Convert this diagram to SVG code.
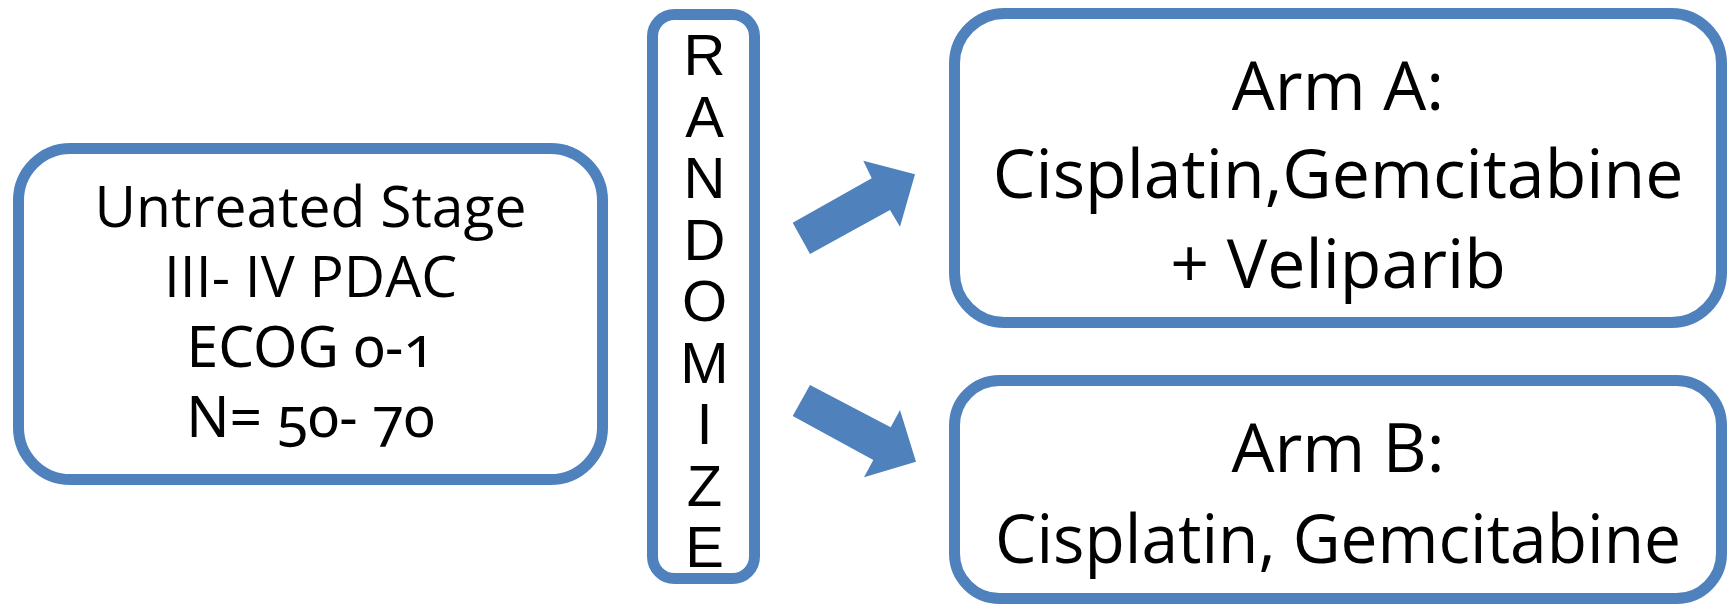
<svg xmlns="http://www.w3.org/2000/svg" width="1727" height="604" viewBox="0 0 1727 604">
<style>
.box{fill:#fff;stroke:#4F81BD;stroke-width:11}
.t{font-family:"Open Sans","Noto Sans",sans-serif;fill:#000;text-anchor:middle}
.l{font-size:57px}
.r{font-size:68px}
.v{font-family:"Liberation Sans",Arial,sans-serif;font-size:58px;fill:#000;text-anchor:middle}
.num{font-family:"Noto Sans","Open Sans",sans-serif;font-variant-numeric:oldstyle-nums}
.arrow{fill:#4F81BD}
</style>
<rect width="1727" height="604" fill="#fff"/>
<g id="node-population">
<rect class="box" x="18.5" y="148.5" width="584" height="331" rx="52"/>
<text class="t l" x="310.5" y="227">Untreated Stage</text>
<text class="t l" x="310.5" y="297">III- IV PDAC</text>
<text class="t l num" x="310.5" y="367">ECOG 0-1</text>
<text class="t l num" x="310.5" y="437">N= 50- 70</text>
</g>
<g id="node-randomize">
<rect class="box" x="652.5" y="14.5" width="102" height="564" rx="22"/>
<text class="v" x="704.5" y="75">R</text>
<text class="v" x="704.5" y="136.5">A</text>
<text class="v" x="704.5" y="198">N</text>
<text class="v" x="704.5" y="259.5">D</text>
<text class="v" x="704.5" y="321">O</text>
<text class="v" x="704.5" y="382.5">M</text>
<text class="v" x="704.5" y="444">I</text>
<text class="v" x="704.5" y="505.5">Z</text>
<text class="v" x="704.5" y="567">E</text>
</g>
<g id="node-armA">
<rect class="box" x="954.5" y="13.5" width="767" height="309" rx="50"/>
<text class="t r" x="1338" y="110">Arm A:</text>
<text class="t r" x="1338" y="198">Cisplatin,Gemcitabine</text>
<text class="t r" x="1338" y="288">+ Veliparib</text>
</g>
<g id="node-armB">
<rect class="box" x="954.5" y="380.5" width="767" height="218" rx="45"/>
<text class="t r" x="1338" y="472">Arm B:</text>
<text class="t r" x="1338" y="563" textLength="686" lengthAdjust="spacingAndGlyphs">Cisplatin, Gemcitabine</text>
</g>
<g id="connectors">
<polygon class="arrow" points="792.7,222.7 871.7,178.3 863.3,160.7 915,174.3 900,226.7 890,210 810,254"/>
<polygon class="arrow" points="810,385 890.7,427.3 900,410 916,461.7 864,477.3 873.3,460 792.7,416"/>
</g>
</svg>
